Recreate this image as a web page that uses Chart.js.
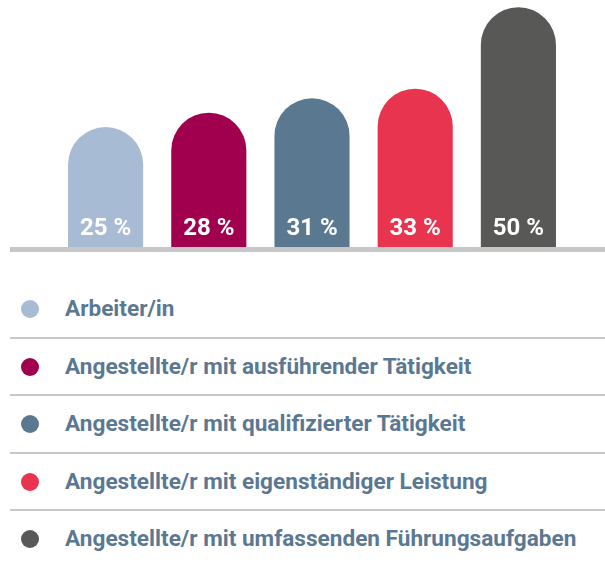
<!DOCTYPE html>
<html>
<head>
<meta charset="utf-8">
<script src="https://cdn.jsdelivr.net/npm/chart.js@4.4.1/dist/chart.umd.min.js"></script>
<style>
  body { margin: 0; background: #fff; width: 605px; height: 564px; overflow: hidden; position: relative; }
  #wrap { position: absolute; left: 0; top: 0; width: 605px; height: 256px; }
  ul { position: absolute; left: 10px; top: 281px; width: 595px; margin: 0; padding: 0; list-style: none; }
  li {
    height: 55.5px; line-height: 55.5px; border-bottom: 2px solid #c8c8c8;
    font-family: Roboto, sans-serif; white-space: nowrap;
    font-weight: bold; font-size: 22.6px; color: #5b7893; padding-left: 55px; position: relative;
  }
  li:last-child { border-bottom: none; }
  li span { position: absolute; left: 11px; top: 19px; width: 18px; height: 18px; border-radius: 50%; }
</style>
</head>
<body>
<div id="wrap"><canvas id="chart" width="605" height="256"></canvas></div>
<ul id="legend"></ul>
<script>
const categories = [
  "Arbeiter/in",
  "Angestellte/r mit ausführender Tätigkeit",
  "Angestellte/r mit qualifizierter Tätigkeit",
  "Angestellte/r mit eigenständiger Leistung",
  "Angestellte/r mit umfassenden Führungsaufgaben"
];
const values = [25, 28, 31, 33, 50];
const colors = ["#a7bcd4", "#a1004f", "#5a7991", "#e8344e", "#585857"];

const legend = document.getElementById("legend");
categories.forEach((c, i) => {
  const li = document.createElement("li");
  li.innerHTML = `<span style="background:${colors[i]}"></span>${c}`;
  legend.appendChild(li);
});

const baseline = {
  id: "baseline",
  afterDatasetsDraw(chart) {
    const ctx = chart.ctx;
    const y = chart.chartArea.bottom;
    ctx.save();
    ctx.fillStyle = "#c6c6c6";
    ctx.fillRect(10, y, chart.width - 10, 5);
    ctx.restore();
  }
};

const barLabels = {
  id: "barLabels",
  afterDatasetsDraw(chart) {
    const ctx = chart.ctx;
    const meta = chart.getDatasetMeta(0);
    ctx.save();
    ctx.fillStyle = "#fff";
    ctx.font = 'bold 24px Roboto, sans-serif';
    ctx.textAlign = "center";
    ctx.textBaseline = "alphabetic";
    meta.data.forEach((bar, i) => {
      ctx.fillText(values[i] + " %", bar.x, chart.chartArea.bottom - 12);
    });
    ctx.restore();
  }
};

new Chart(document.getElementById("chart").getContext("2d"), {
  type: "bar",
  data: {
    labels: categories,
    datasets: [{
      data: values,
      backgroundColor: colors,
      borderRadius: { topLeft: 40, topRight: 40 },
      borderSkipped: "bottom",
      barPercentage: 0.728,
      categoryPercentage: 1
    }]
  },
  options: {
    responsive: false,
    animation: false,
    layout: { padding: { left: 54, right: 35, top: 0, bottom: 9 } },
    scales: {
      x: { display: false },
      y: { display: false, min: 0, max: 51.5 }
    },
    plugins: { legend: { display: false }, tooltip: { enabled: false } }
  },
  plugins: [baseline, barLabels]
});
</script>
</body>
</html>
